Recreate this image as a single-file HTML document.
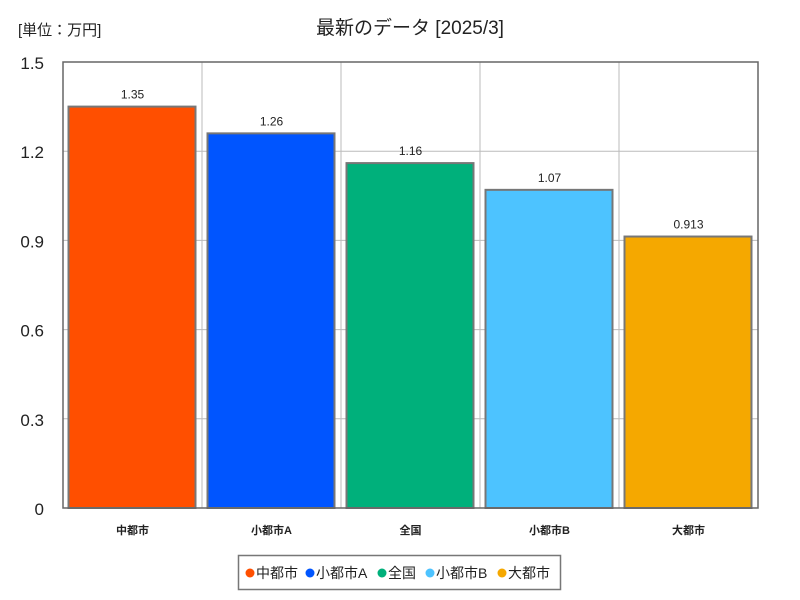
<!DOCTYPE html>
<html><head><meta charset="utf-8"><style>
body{margin:0;background:#fff;}
svg{display:block;font-family:"Liberation Sans","Noto Sans CJK JP",sans-serif;}
</style></head><body>
<svg id="chart" width="800" height="600" viewBox="0 0 800 600">
<text x="18" y="35" font-size="15" fill="#222">[単位：万円]</text>
<text x="410" y="34" font-size="19" fill="#222" text-anchor="middle">最新のデータ [2025/3]</text>
<g id="grid"></g><g id="bars"></g><g id="labels"></g>
<rect x="63" y="62" width="695" height="446" fill="none" stroke="#666" stroke-width="1.5"/>
<g id="legend">
<rect x="238.5" y="555.5" width="322" height="34" fill="#fff" stroke="#777" stroke-width="1.5"/>
</g>
</svg>
<script>
const categories=["中都市","小都市A","全国","小都市B","大都市"];
const values=[1.35,1.26,1.16,1.07,0.913];
const valueLabels=["1.35","1.26","1.16","1.07","0.913"];
const colors=["#ff4f00","#0055ff","#00b07b","#4dc3ff","#f5a800"];
const yTicks=[0,0.3,0.6,0.9,1.2,1.5];
const yTickLabels=["0","0.3","0.6","0.9","1.2","1.5"];
const NS="http://www.w3.org/2000/svg";
const x0=63,x1=758,y0=508,y1=62,yMax=1.5;
const slot=(x1-x0)/categories.length;
const yS=v=>y0-(v/yMax)*(y0-y1);
function mk(t,a,p){const e=document.createElementNS(NS,t);for(const k in a)e.setAttribute(k,a[k]);p.appendChild(e);return e;}
const grid=document.getElementById('grid'),bars=document.getElementById('bars'),labels=document.getElementById('labels');
yTicks.forEach((t,i)=>{
  const y=yS(t);
  if(i>0&&i<yTicks.length-1){const l=mk('line',{x1:x0,x2:x1,y1:y,y2:y,stroke:'#bbb','stroke-width':1},grid);
  
  }
  const tx=mk('text',{x:44,y:y+7,'font-size':17,'text-anchor':'end',fill:'#222'},labels);
  tx.textContent=yTickLabels[i];
  
  
});
for(let i=1;i<categories.length;i++){
  const x=x0+slot*i;
  const l=mk('line',{x1:x,x2:x,y1:y1,y2:y0,stroke:'#bbb','stroke-width':1},grid);
  
  
}
categories.forEach((c,i)=>{
  const bx=x0+slot*i+5.5,bw=slot-12,y=yS(values[i]);
  const r=mk('rect',{x:bx,y:y,width:bw,height:y0-y,fill:colors[i],stroke:'#777','stroke-width':2},bars);
  
  
  const cx=x0+slot*(i+0.5);
  const vt=mk('text',{x:cx,y:y-8,'font-size':12,'text-anchor':'middle',fill:'#222'},labels);
  vt.textContent=valueLabels[i];
  
  
  const ct=mk('text',{x:cx,y:534,'font-size':11,'font-weight':'bold','text-anchor':'middle',fill:'#222'},labels);
  ct.textContent=c;
  
  
});
const lg=document.getElementById('legend');
const lx=[250,310,382,430,502];
categories.forEach((c,i)=>{
  const d=mk('circle',{cx:lx[i],cy:573,r:4.5,fill:colors[i]},lg);
  
  
  const t=mk('text',{x:lx[i]+6,y:578,'font-size':14,fill:'#222'},lg);
  t.textContent=c;
  
  
});
</script>
</body></html>
